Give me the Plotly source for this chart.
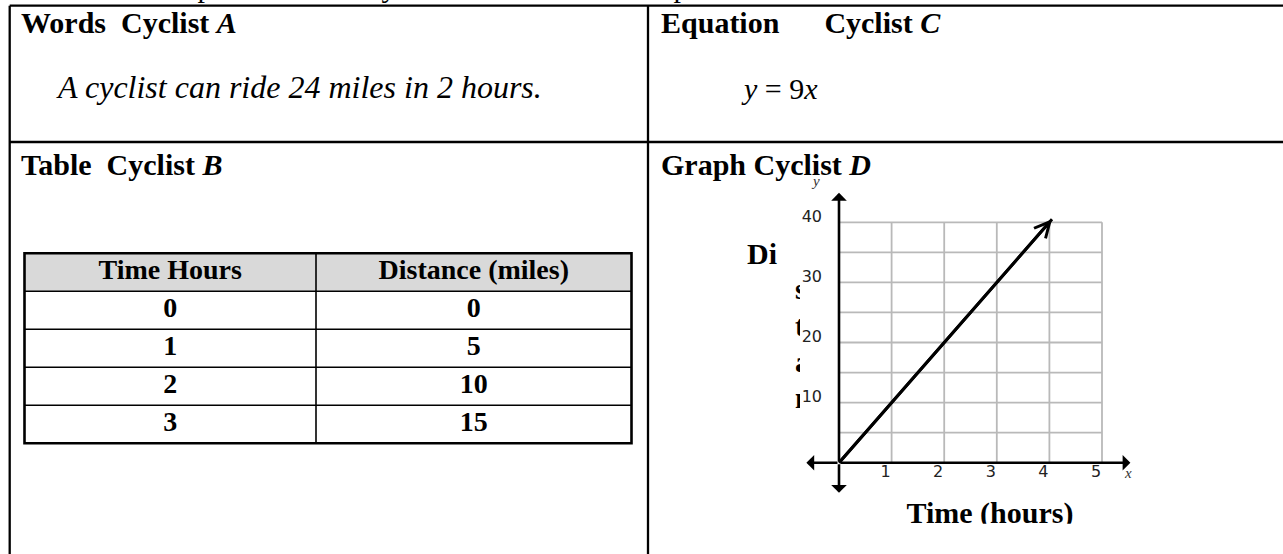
import plotly.graph_objects as go

W, H = 1283, 554

# ---------------- data ----------------
CARD_TITLES = ["<b>Words\u00a0\u00a0Cyclist <i>A</i></b>",
               "<b>Equation\u00a0\u00a0\u00a0\u00a0\u00a0\u00a0Cyclist <i>C</i></b>",
               "<b>Table\u00a0\u00a0Cyclist <i>B</i></b>",
               "<b>Graph Cyclist <i>D</i></b>"]
WORDS_SENTENCE = "A cyclist can ride 24 miles in 2 hours."
EQUATION = "<i>y</i> = 9<i>x</i>"
TABLE_HEADERS = ["Time Hours", "Distance (miles)"]
TABLE_HOURS = [0, 1, 2, 3]
TABLE_MILES = [0, 5, 10, 15]
GRAPH_HOURS = [0, 4.05]
GRAPH_MILES = [0, 40.5]
X_TICKS = [1, 2, 3, 4, 5]
Y_TICKS = [10, 20, 30, 40]
X_GRID = [1, 2, 3, 4, 5]
Y_GRID = [5, 10, 15, 20, 25, 30, 35, 40]
Y_TITLE_VISIBLE = "Di"
Y_TITLE_CLIPPED = ["s", "t", "a", "n"]
X_TITLE = "Time (hours)"
TOP_LINE_TAILS = ["p", "y", "p"]

# ---------------- styling / layout constants ----------------
SERIF = "Liberation Serif"
SANS = "DejaVu Sans"
FRAME_LEFT, FRAME_TOP = 9.7, 5.7
COL_SPLIT, ROW_SPLIT = 648.0, 142.0
FRAME_W = 2.3

GX0, GXU = 839.0, 52.6      # pixel of hour 0, pixels per hour
GY0, GYU = 462.7, 6.01      # pixel of 0 miles, pixels per mile
GX_RANGE = [-1.0, 6.0]
GY_RANGE = [-8.0, 48.0]
X_AXIS_ENDS = [-0.62, 5.54]
Y_AXIS_ENDS = [-5.0, 44.9]

TABLE_COLS = [24.5, 316.0, 631.5]
TABLE_TOP, TABLE_ROW_H = 253.3, 38.0

fig = go.Figure()


def pixel_axes(n, x0, x1, y0, y1):
    fig.update_layout(**{
        f"xaxis{n}": dict(domain=[x0 / W, x1 / W], range=[x0, x1], visible=False,
                          fixedrange=True, anchor=f"y{n}"),
        f"yaxis{n}": dict(domain=[1 - y1 / H, 1 - y0 / H], range=[y1, y0], visible=False,
                          fixedrange=True, anchor=f"x{n}"),
    })


# page axes (pixel units), clip boxes
pixel_axes(2, 0, W, 0, H)
pixel_axes(3, 870, 1110, 495, 523.8)      # x-axis title, bottom clipped
pixel_axes(4, 760, 800, 270, 425)         # clipped vertical letters of y title
pixel_axes(5, 0, W, 0, 4.5)               # tails of the line above the frame

# ---------------- main graph axes ----------------
fig.update_layout(
    xaxis=dict(domain=[(GX0 + GX_RANGE[0] * GXU) / W, (GX0 + GX_RANGE[1] * GXU) / W],
               range=GX_RANGE, anchor="free", position=1 - GY0 / H,
               showgrid=False, zeroline=False, showline=False, ticks="",
               tickvals=X_TICKS, ticktext=[str(v) for v in X_TICKS],
               tickfont=dict(family=SANS, size=16, color="#222"),
               ticklabelshift=-6, ticklabelstandoff=-3, fixedrange=True),
    yaxis=dict(domain=[1 - (GY0 - GY_RANGE[0] * GYU) / H, 1 - (GY0 - GY_RANGE[1] * GYU) / H],
               range=GY_RANGE, anchor="free", position=GX0 / W,
               showgrid=False, zeroline=False, showline=False, ticks="",
               tickvals=Y_TICKS, ticktext=[str(v) for v in Y_TICKS],
               tickfont=dict(family=SANS, size=16, color="#222"),
               ticklabelshift=-6, ticklabelstandoff=17, fixedrange=True),
)

shapes = []
# grid
for v in X_GRID:
    shapes.append(dict(type="line", xref="x", yref="y", x0=v, x1=v, y0=0, y1=max(Y_GRID),
                       line=dict(color="#b9b9b9", width=1.8), layer="below"))
for v in Y_GRID:
    shapes.append(dict(type="line", xref="x", yref="y", x0=0, x1=max(X_GRID), y0=v, y1=v,
                       line=dict(color="#b9b9b9", width=1.8), layer="below"))

# data line
fig.add_trace(go.Scatter(x=GRAPH_HOURS, y=GRAPH_MILES, mode="lines", xaxis="x", yaxis="y",
                         line=dict(color="black", width=3), hoverinfo="skip", showlegend=False))

annotations = []
# arrow head on the line
annotations.append(dict(xref="x", yref="y", axref="x", ayref="y",
                        x=GRAPH_HOURS[-1], y=GRAPH_MILES[-1], ax=GRAPH_HOURS[0], ay=GRAPH_MILES[0],
                        text="", showarrow=True, arrowhead=5, arrowwidth=3, arrowsize=1,
                        arrowcolor="black"))
# axes with arrows
for e in X_AXIS_ENDS:
    annotations.append(dict(xref="x", yref="y", axref="x", ayref="y", x=e, y=0, ax=0, ay=0,
                            text="", showarrow=True, arrowhead=1, arrowwidth=2.6, arrowsize=1,
                            arrowcolor="black"))
for e in Y_AXIS_ENDS:
    annotations.append(dict(xref="x", yref="y", axref="x", ayref="y", x=0, y=e, ax=0, ay=0,
                            text="", showarrow=True, arrowhead=1, arrowwidth=2.6, arrowsize=1,
                            arrowcolor="black"))
# small axis letters
annotations.append(dict(xref="x", yref="y", x=5.49, y=-1.76, text="<i>x</i>", showarrow=False,
                        font=dict(family=SERIF, size=15, color="#333")))
annotations.append(dict(xref="x", yref="y", x=-0.44, y=46.9, text="<i>y</i>", showarrow=False,
                        font=dict(family=SERIF, size=15, color="#333")))


def page_text(x, y, text, size, xanchor="left"):
    annotations.append(dict(xref="x2", yref="y2", x=x, y=y, text=text, showarrow=False,
                            xanchor=xanchor, yanchor="middle", borderpad=0, borderwidth=0,
                            font=dict(family=SERIF, size=size, color="black")))


page_text(21, 22.5, CARD_TITLES[0], 30)
page_text(661, 22.5, CARD_TITLES[1], 30)
page_text(21, 164, CARD_TITLES[2], 30)
page_text(661, 164, CARD_TITLES[3], 30)
page_text(56, 87, f"<i>{WORDS_SENTENCE}</i>", 32)
page_text(741, 88.7, EQUATION, 30)
page_text(747, 253, f"<b>{Y_TITLE_VISIBLE}</b>", 30)

# page frame
frame = [(FRAME_LEFT, FRAME_TOP, W, FRAME_TOP), (FRAME_LEFT, FRAME_TOP, FRAME_LEFT, H),
         (COL_SPLIT, FRAME_TOP, COL_SPLIT, H), (FRAME_LEFT, ROW_SPLIT, W, ROW_SPLIT)]
for x0, y0, x1, y1 in frame:
    shapes.append(dict(type="line", xref="x2", yref="y2", x0=x0, y0=y0, x1=x1, y1=y1,
                       line=dict(color="black", width=FRAME_W)))

# table
rows = [TABLE_HEADERS] + [[str(h), str(m)] for h, m in zip(TABLE_HOURS, TABLE_MILES)]
t_bottom = TABLE_TOP + TABLE_ROW_H * len(rows)
shapes.append(dict(type="rect", xref="x2", yref="y2", x0=TABLE_COLS[0], x1=TABLE_COLS[-1],
                   y0=TABLE_TOP, y1=TABLE_TOP + TABLE_ROW_H, fillcolor="#d9d9d9",
                   line=dict(width=0), layer="below"))
for i in range(1, len(rows)):
    yy = TABLE_TOP + TABLE_ROW_H * i
    shapes.append(dict(type="line", xref="x2", yref="y2", x0=TABLE_COLS[0], x1=TABLE_COLS[-1],
                       y0=yy, y1=yy, line=dict(color="black", width=1.6)))
for xx in TABLE_COLS[1:-1]:
    shapes.append(dict(type="line", xref="x2", yref="y2", x0=xx, x1=xx, y0=TABLE_TOP, y1=t_bottom,
                       line=dict(color="black", width=1.6)))
shapes.append(dict(type="rect", xref="x2", yref="y2", x0=TABLE_COLS[0], x1=TABLE_COLS[-1],
                   y0=TABLE_TOP, y1=t_bottom, line=dict(color="black", width=2.6)))

cx, cy, ct = [], [], []
for i, row in enumerate(rows):
    for j, t in enumerate(row):
        cx.append((TABLE_COLS[j] + TABLE_COLS[j + 1]) / 2)
        cy.append(TABLE_TOP + TABLE_ROW_H * (i + 0.5))
        ct.append(t)
fig.add_trace(go.Scatter(x=cx, y=cy, text=ct, mode="text", textposition="middle center",
                         xaxis="x2", yaxis="y2", hoverinfo="skip", showlegend=False,
                         textfont=dict(family=SERIF, size=28, color="black", weight="bold")))

# x axis title (bottom clipped)
fig.add_trace(go.Scatter(x=[990], y=[523 - 0.25 * 30], text=[X_TITLE], mode="text",
                         textposition="middle center", xaxis="x3", yaxis="y3", hoverinfo="skip",
                         showlegend=False, cliponaxis=True,
                         textfont=dict(family=SERIF, size=30, color="black", weight="bold")))

# clipped letters of y title
base0, step = 263.0, 36.3
fig.add_trace(go.Scatter(x=[795] * len(Y_TITLE_CLIPPED),
                         y=[base0 + step * (k + 1) - 0.25 * 30 for k in range(len(Y_TITLE_CLIPPED))],
                         text=Y_TITLE_CLIPPED, mode="text", textposition="middle right",
                         xaxis="x4", yaxis="y4", hoverinfo="skip", showlegend=False, cliponaxis=True,
                         textfont=dict(family=SERIF, size=30, color="black", weight="bold")))

# descender tails of the text line above
fig.add_trace(go.Scatter(x=[205, 389, 681], y=[-3.5 - 0.25 * 30] * 3, text=TOP_LINE_TAILS,
                         mode="text", textposition="middle center", xaxis="x5", yaxis="y5",
                         hoverinfo="skip", showlegend=False, cliponaxis=True,
                         textfont=dict(family=SERIF, size=30, color="black")))

fig.update_layout(width=W, height=H, margin=dict(l=0, r=0, t=0, b=0),
                  paper_bgcolor="white", plot_bgcolor="rgba(0,0,0,0)",
                  showlegend=False, hovermode=False, shapes=shapes, annotations=annotations)

fig.write_html("out.html", config={"displayModeBar": False},
               post_script="document.body.style.margin='0';document.body.style.overflow='hidden';")
